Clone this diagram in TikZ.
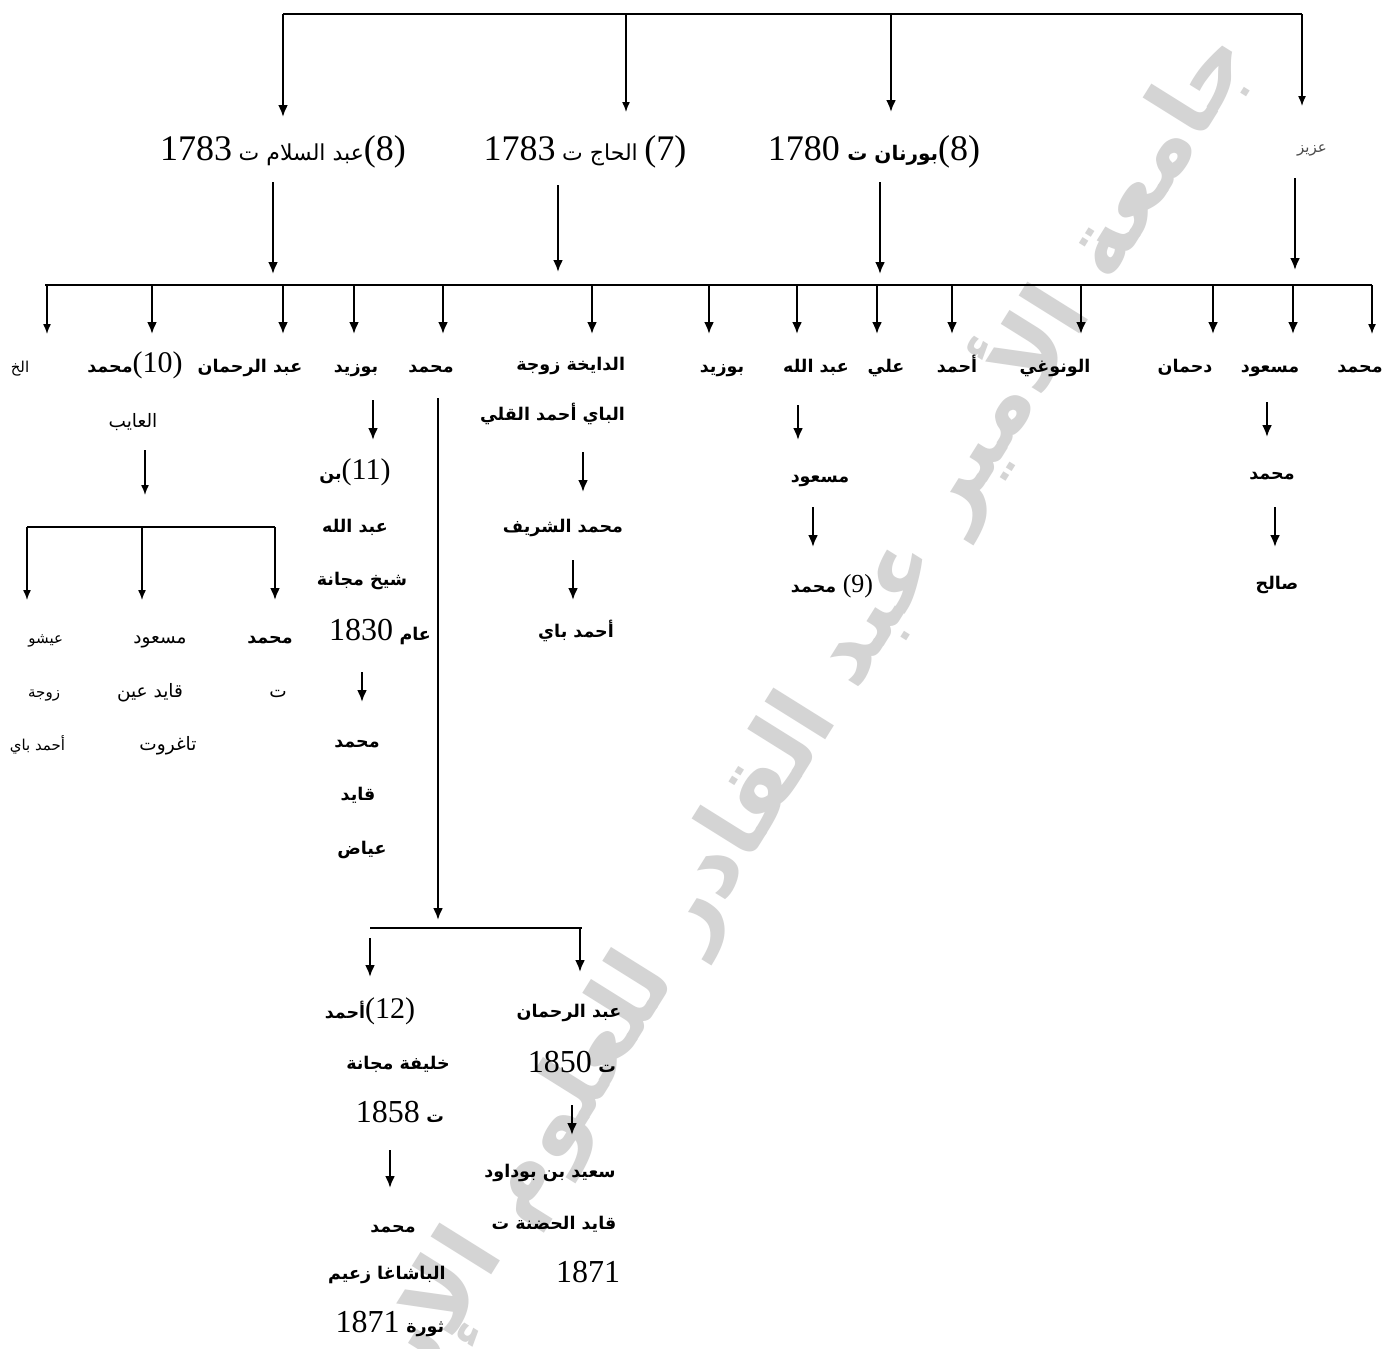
\documentclass[tikz,border=0pt]{standalone}
\usepackage{fontspec}
\usetikzlibrary{arrows.meta}
\TeXXeTstate=1
\newfontfamily\arabicfont[Script=Arabic]{DejaVu Sans}
\newfontfamily\numfont{Liberation Serif}
\newcommand\AR[1]{{\arabicfont\beginR #1\endR}}
\newcommand\NM[2][32]{{\numfont\mdseries\fontsize{#1}{#1}\selectfont #2}}
\begin{document}
\begin{tikzpicture}[x=1pt,y=-1pt,
  every node/.style={inner sep=0pt,outer sep=0pt,anchor=base},
  lb/.style={font=\fontsize{17.5}{20}\selectfont\bfseries},
  lr/.style={font=\fontsize{18.5}{21}\selectfont},
  lbs/.style={font=\fontsize{15}{18}\selectfont},
  ar/.style={-{Latex[length=12pt,width=10pt]},line width=2.3pt},
  art/.style={-{Latex[length=10pt,width=8pt]},line width=1.4pt},
  bar/.style={line width=2pt},
  wm/.style={text=black!17,font=\fontsize{94}{94}\selectfont\bfseries}]
\useasboundingbox (0,0) rectangle (1390,1349);
\fill[white] (0,0) rectangle (1390,1349);
% watermark
\node[wm,anchor=center,rotate=58] (wmark) at (740,815) {\AR{جامعة الأمير عبد القادر للعلوم الإسلامية}};
% top bar
\coordinate (T1) at (283,14); \coordinate (T2) at (626,14);
\coordinate (T3) at (891,14); \coordinate (T4) at (1302,14);
\coordinate (T1e) at (283,117); \coordinate (T2e) at (626,112);
\coordinate (T3e) at (891,112); \coordinate (T4e) at (1302,106);
\draw[line width=1.5pt] (T1) -- (T4);
\draw[ar] (T1) -- (T1e); \draw[art] (T2) -- (T2e);
\draw[ar] (T3) -- (T3e); \draw[art] (T4) -- (T4e);
% level 1
\node[font=\fontsize{22}{26}\selectfont] (A1) at (283,160) {\NM[36]{1783} \AR{عبد السلام ت}\NM[36]{(8)}};
\node[font=\fontsize{22}{26}\selectfont] (A2) at (585,160) {\NM[36]{1783} \AR{الحاج ت} \NM[36]{(7)}};
\node[font=\fontsize{20}{24}\selectfont\bfseries] (A3) at (874,160) {\NM[36]{1780} \AR{بورنان ت}\NM[36]{(8)}};
\node[lbs,text=black!70] (A4) at (1312,152) {\AR{عزيز}};
\coordinate (A1s) at (273,182); \coordinate (A1t) at (273,274);
\coordinate (A2s) at (558,185); \coordinate (A2t) at (558,272);
\coordinate (A3s) at (880,182); \coordinate (A3t) at (880,274);
\coordinate (A4s) at (1295,178); \coordinate (A4t) at (1295,270);
\draw[ar] (A1s) -- (A1t); \draw[ar] (A2s) -- (A2t);
\draw[ar] (A3s) -- (A3t); \draw[ar] (A4s) -- (A4t);
% level 2 bar
\coordinate (BL) at (45,285); \coordinate (BR) at (1372,285);
\draw[bar] (BL) -- (BR);
\foreach \x/\s [count=\i] in {47/art,152/ar,283/ar,354/ar,443/ar,592/ar,709/ar,797/ar,877/ar,952/ar,1081/ar,1213/ar,1293/ar,1372/art}{
  \coordinate (D\i) at (\x,285); \coordinate (E\i) at (\x,334);
  \draw[\s] (D\i) -- (E\i);}
% level 2 labels
\node[lbs] (B1) at (20,372) {\AR{الخ}};
\node[lb] (B2) at (135,372) {\AR{محمد}\NM[30]{(10)}};
\node[lb] (B3) at (250,372) {\AR{عبد الرحمان}};
\node[lb] (B4) at (356,372) {\AR{بوزيد}};
\node[lb] (B5) at (431,372) {\AR{محمد}};
\node[lb,anchor=base east] (B6) at (625,370) {\AR{الدايخة زوجة}};
\node[lb] (B7) at (722,372) {\AR{بوزيد}};
\node[lb] (B8) at (816,372) {\AR{عبد الله}};
\node[lb] (B9) at (886,372) {\AR{علي}};
\node[lb] (B10) at (957,372) {\AR{أحمد}};
\node[lb] (B11) at (1055,372) {\AR{الونوغي}};
\node[lb] (B12) at (1185,372) {\AR{دحمان}};
\node[lb] (B13) at (1270,372) {\AR{مسعود}};
\node[lb] (B14) at (1360,372) {\AR{محمد}};
% under B2
\node[lr] (B2b) at (133,427) {\AR{العايب}};
\coordinate (B2s) at (145,450); \coordinate (B2t) at (145,495);
\draw[art] (B2s) -- (B2t);
\coordinate (CL) at (27,527); \coordinate (CM) at (142,527); \coordinate (CR) at (275,527);
\coordinate (CLe) at (27,600); \coordinate (CMe) at (142,600); \coordinate (CRe) at (275,600);
\draw[line width=1.5pt] (CL) -- (CR);
\draw[art] (CL) -- (CLe); \draw[art] (CM) -- (CMe); \draw[ar] (CR) -- (CRe);
\node[lb] (C1a) at (270,643) {\AR{محمد}};
\node[lr] (C1b) at (278,697) {\AR{ت}};
\node[lr] (C2a) at (160,643) {\AR{مسعود}};
\node[lr] (C2b) at (150,697) {\AR{قايد عين}};
\node[lr] (C2c) at (168,750) {\AR{تاغروت}};
\node[lbs,anchor=base east] (C3a) at (63,643) {\AR{عيشو}};
\node[lbs,anchor=base east] (C3b) at (60,697) {\AR{زوجة}};
\node[lbs,anchor=base east] (C3c) at (65,750) {\AR{أحمد باي}};
% under B4
\coordinate (B4s) at (373,400); \coordinate (B4t) at (373,440);
\draw[ar] (B4s) -- (B4t);
\node[lb] (D1) at (355,479) {\AR{بن}\NM[30]{(11)}};
\node[lb] (D2) at (355,532) {\AR{عبد الله}};
\node[lb] (D3) at (362,585) {\AR{شيخ مجانة}};
\node[lb] (D4) at (380,640) {\NM[32]{1830} \AR{عام}};
\coordinate (D4s) at (362,672); \coordinate (D4t) at (362,702);
\draw[ar] (D4s) -- (D4t);
\node[lb] (D5) at (357,747) {\AR{محمد}};
\node[lb] (D6) at (358,800) {\AR{قايد}};
\node[lb] (D7) at (362,854) {\AR{عياض}};
% long line under B5
\coordinate (B5s) at (438,398); \coordinate (B5t) at (438,920);
\draw[ar] (B5s) -- (B5t);
\coordinate (GL) at (370,928); \coordinate (GR) at (582,928);
\draw[line width=1.5pt] (GL) -- (GR);
\coordinate (GLs) at (370,938); \coordinate (GLe) at (370,977);
\coordinate (GRe) at (580,972); \coordinate (GRs) at (580,928);
\draw[ar] (GLs) -- (GLe); \draw[ar] (GRs) -- (GRe);
% left column
\node[lb] (E1) at (370,1018) {\AR{أحمد}\NM[30]{(12)}};
\node[lb] (E2) at (398,1069) {\AR{خليفة مجانة}};
\node[lb] (E3) at (400,1122) {\NM[32]{1858} \AR{ت}};
\coordinate (E3s) at (390,1150); \coordinate (E3t) at (390,1188);
\draw[ar] (E3s) -- (E3t);
\node[lb] (E4) at (393,1232) {\AR{محمد}};
\node[lb] (E5) at (387,1279) {\AR{الباشاغا زعيم}};
\node[lb] (E6) at (390,1332) {\NM[32]{1871} \AR{ثورة}};
% right column
\node[lb] (F1) at (569,1017) {\AR{عبد الرحمان}};
\node[lb] (F2) at (572,1072) {\NM[32]{1850} \AR{ت}};
\coordinate (F2s) at (572,1105); \coordinate (F2t) at (572,1135);
\draw[ar] (F2s) -- (F2t);
\node[lb] (F3) at (550,1177) {\AR{سعيد بن بوداود}};
\node[lb] (F4) at (554,1229) {\AR{قايد الحضنة ت}};
\node (F5) at (588,1282) {\NM[32]{1871}};
% under B6
\node[lb,anchor=base east] (G1) at (625,420) {\AR{الباي أحمد القلي}};
\coordinate (G1s) at (583,452); \coordinate (G1t) at (583,492);
\draw[ar] (G1s) -- (G1t);
\node[lb] (G2) at (563,532) {\AR{محمد الشريف}};
\coordinate (G2s) at (573,560); \coordinate (G2t) at (573,600);
\draw[ar] (G2s) -- (G2t);
\node[lb] (G3) at (576,637) {\AR{أحمد باي}};
% under B8
\coordinate (H0s) at (798,405); \coordinate (H0t) at (798,440);
\draw[ar] (H0s) -- (H0t);
\node[lb] (H1) at (820,482) {\AR{مسعود}};
\coordinate (H1s) at (813,507); \coordinate (H1t) at (813,547);
\draw[ar] (H1s) -- (H1t);
\node[lb] (H2) at (832,592) {\AR{محمد} \NM[26]{(9)}};
% under B13
\coordinate (I0s) at (1267,402); \coordinate (I0t) at (1267,437);
\draw[ar] (I0s) -- (I0t);
\node[lb] (I1) at (1272,479) {\AR{محمد}};
\coordinate (I1s) at (1275,507); \coordinate (I1t) at (1275,547);
\draw[ar] (I1s) -- (I1t);
\node[lb] (I2) at (1277,589) {\AR{صالح}};
\end{tikzpicture}
\end{document}
